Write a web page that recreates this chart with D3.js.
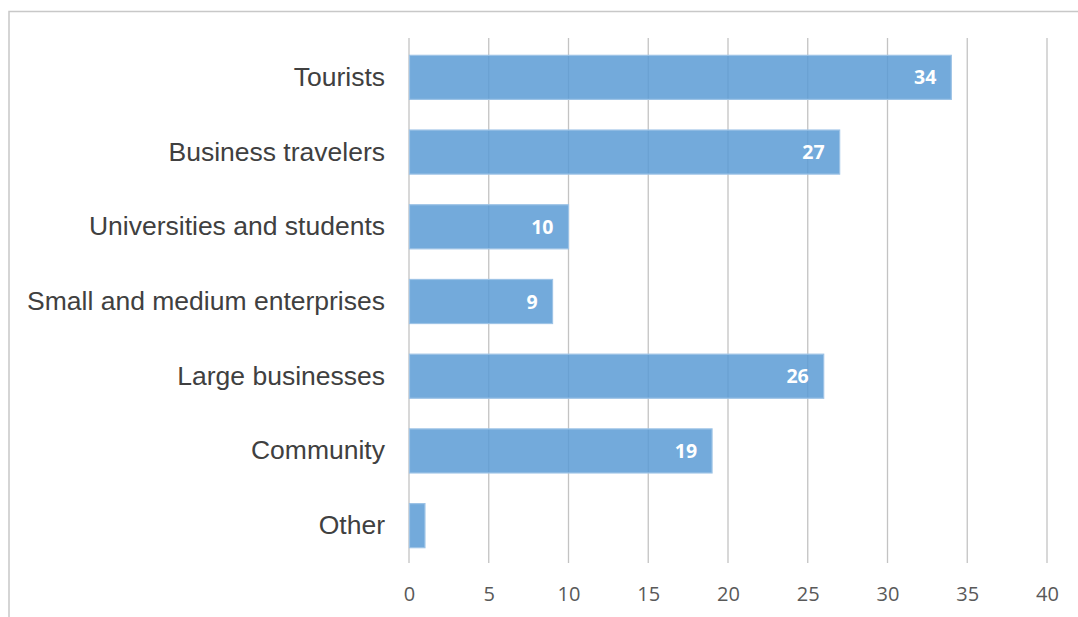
<!DOCTYPE html>
<html><head><meta charset="utf-8">
<script src="https://cdn.jsdelivr.net/npm/d3@7"></script>
<style>html,body{margin:0;padding:0;background:#fff;}svg{display:block;}</style>
</head><body>
<svg id="c" width="1078" height="617"></svg>
<script>
const categories = ["Tourists","Business travelers","Universities and students","Small and medium enterprises","Large businesses","Community","Other"];
const values = [34,27,10,9,26,19,1];
const showLabel = [true,true,true,true,true,true,false];
const tickValues = [0,5,10,15,20,25,30,35,40];

const svg = d3.select("#c");
// chart border (right/bottom cut off)
svg.append("path").attr("d","M9,617 V11.5 H1078").attr("fill","none").attr("stroke","#c8c8c8").attr("stroke-width",1.5);

const x = d3.scaleLinear().domain([0,40]).range([409,1047]);
const y = d3.scaleBand().domain(categories).range([40,563]).paddingInner(0.41).paddingOuter(0.205);

// gridlines
svg.append("g").selectAll("line").data(tickValues).join("line")
  .attr("x1",d=>x(d)).attr("x2",d=>x(d)).attr("y1",38).attr("y2",563)
  .attr("stroke","#c3c3c3").attr("stroke-width",1.3);

// bars
svg.append("g").selectAll("rect").data(values).join("rect")
  .attr("x",x(0)+0.5).attr("y",(d,i)=>y(categories[i]))
  .attr("width",d=>x(d)-x(0)-0.5).attr("height",y.bandwidth())
  .attr("fill","rgb(91,155,213)").attr("fill-opacity",0.85)
  .attr("stroke","#9dc3e6").attr("stroke-width",1.2);

// value labels
svg.append("g").selectAll("text").data(values).join("text")
  .filter((d,i)=>showLabel[i])
  .attr("x",d=>x(d)-15).attr("y",(d,i)=>y(categories[i])+y.bandwidth()/2)
  .attr("dy","0.36em").attr("text-anchor","end")
  .attr("font-family","Open Sans").attr("font-weight","bold")
  .attr("font-size",19.5).attr("fill","#fff").text(d=>d);

// category labels
svg.append("g").selectAll("text").data(categories).join("text")
  .attr("x",385).attr("y",d=>y(d)+y.bandwidth()/2).attr("dy","0.32em")
  .attr("text-anchor","end").style("font-family","'Liberation Sans'")
  .attr("font-size",26.5).attr("fill","#404040").text(d=>d);

// x tick labels
const xAxis = d3.axisBottom(x).tickValues(tickValues).tickSize(0).tickPadding(0);
const gx = svg.append("g").attr("transform","translate(0,587)").call(xAxis);
gx.select(".domain").remove();
gx.selectAll("text").attr("font-family","Open Sans").attr("font-size",20).attr("fill","#595959").attr("dy","0.71em");
</script>
</body></html>
